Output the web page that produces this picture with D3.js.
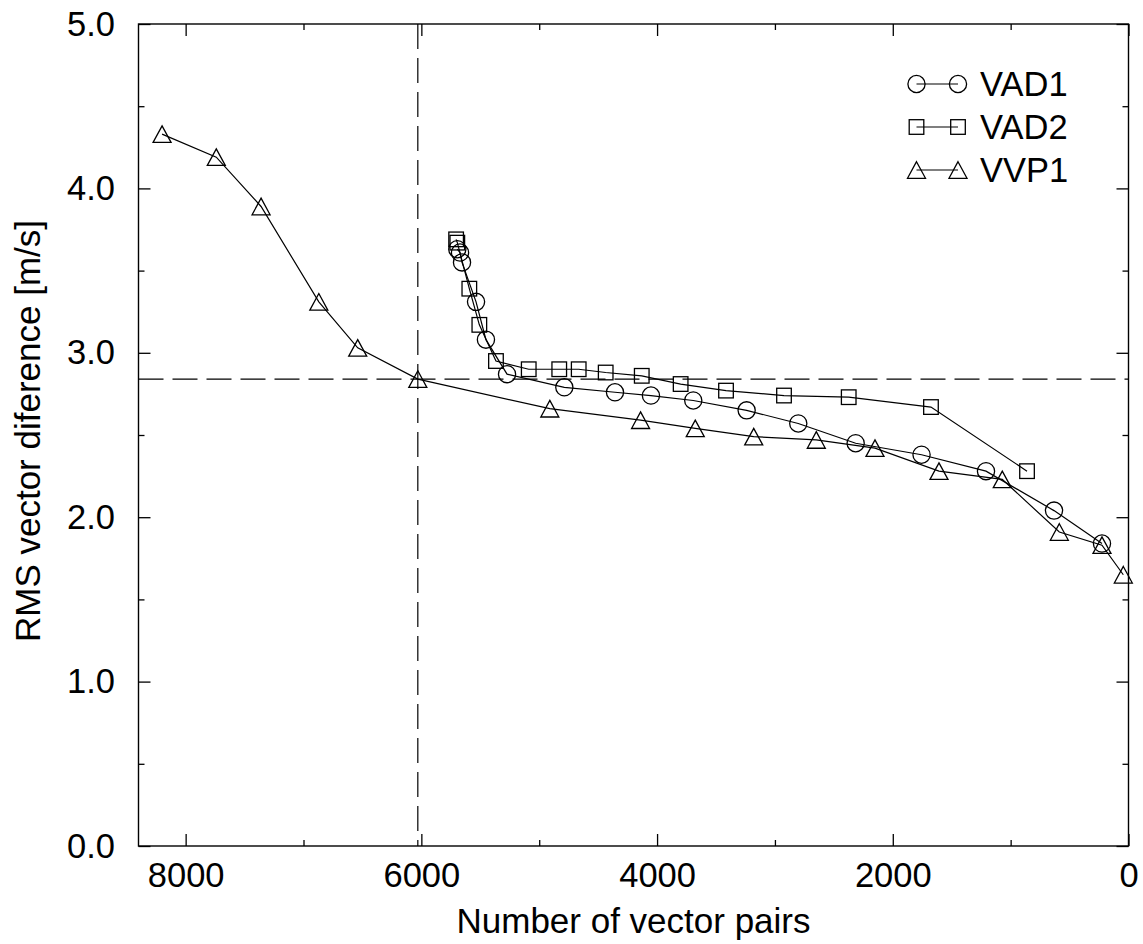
<!DOCTYPE html>
<html>
<head>
<meta charset="utf-8">
<script src="https://cdn.jsdelivr.net/npm/d3@7"></script>
<style>
  body { margin: 0; background: #fff; }
  text { font-family: "Liberation Sans", Arial, Helvetica, sans-serif; fill: #000; }
</style>
</head>
<body>
<svg id="chart" width="1143" height="944"></svg>
<script>
// RMS vector difference against number of vector pairs, three retrieval methods
const vad1Pairs = [5695, 5672, 5655, 5536, 5452, 5273, 4787, 4357, 4052, 3693, 3240, 2802, 2315, 1756, 1209, 632, 225];
const vad1Rms   = [3.63, 3.61, 3.55, 3.31, 3.08, 2.87, 2.79, 2.76, 2.74, 2.71, 2.65, 2.57, 2.45, 2.38, 2.28, 2.04, 1.84];

const vad2Pairs = [5705, 5695, 5593, 5508, 5367, 5089, 4830, 4665, 4436, 4130, 3800, 3415, 2923, 2374, 1676, 861];
const vad2Rms   = [3.69, 3.67, 3.39, 3.17, 2.95, 2.90, 2.90, 2.90, 2.88, 2.86, 2.81, 2.77, 2.74, 2.73, 2.67, 2.28];

const vvp1Pairs = [8200, 7740, 7360, 6870, 6540, 6030, 4910, 4140, 3676, 3180, 2649, 2151, 1608, 1071, 587, 225, 44];
const vvp1Rms   = [4.33, 4.19, 3.89, 3.31, 3.03, 2.84, 2.66, 2.59, 2.54, 2.49, 2.47, 2.42, 2.28, 2.23, 1.91, 1.83, 1.65];

const seriesNames = ["VAD1", "VAD2", "VVP1"];
const seriesSymbols = ["circle", "square", "triangle"];

// reference threshold marked by the dashed cross-hair
const thresholdPairs = 6030;
const thresholdRms = 2.84;

const xMajorTicks = [8000, 6000, 4000, 2000, 0];
const xMinorTicks = [7000, 5000, 3000, 1000];
const yMajorTicks = [0, 1, 2, 3, 4, 5];
const yMinorTicks = [0.5, 1.5, 2.5, 3.5, 4.5];

const xLabel = "Number of vector pairs";
const yLabel = "RMS vector diference [m/s]";

const svg = d3.select("#chart");
const plot = { left: 138.5, right: 1128.5, top: 24, bottom: 846 };
const fontSize = 34.5;
const titleSize = 35;

const x = d3.scaleLinear().domain([8400, 0]).range([plot.left, plot.right]);
const y = d3.scaleLinear().domain([0, 5]).range([plot.bottom, plot.top]);

const series = [
  { pairs: vad1Pairs, rms: vad1Rms },
  { pairs: vad2Pairs, rms: vad2Rms },
  { pairs: vvp1Pairs, rms: vvp1Rms }
].map((s, i) => ({
  name: seriesNames[i],
  symbol: seriesSymbols[i],
  points: s.pairs.map((p, j) => ({ p, r: s.rms[j] }))
}));

// draws one hollow marker centred on (cx, cy)
function marker(g, kind, cx, cy) {
  if (kind === "circle") {
    g.append("circle").attr("cx", cx).attr("cy", cy).attr("r", 8.6);
  } else if (kind === "square") {
    g.append("rect").attr("x", cx - 7.3).attr("y", cy - 7.3).attr("width", 14.6).attr("height", 14.6);
  } else {
    const w = 9, h = 8.3;
    g.append("path").attr("d", `M${cx},${cy - h}L${cx + w},${cy + h}L${cx - w},${cy + h}Z`);
  }
}

// axes: inward ticks on all four sides
function styleAxis(g) {
  g.select(".domain").remove();
  g.selectAll(".tick line").attr("stroke", "#000").attr("stroke-width", 1.3);
  g.selectAll("text").style("font-size", fontSize + "px").attr("fill", "#000");
}

svg.append("g").attr("transform", `translate(0,${plot.bottom})`)
  .call(d3.axisBottom(x).tickValues(xMajorTicks).tickSize(-12).tickPadding(16.5).tickFormat(d3.format("d")))
  .call(styleAxis);
svg.append("g").attr("transform", `translate(0,${plot.bottom})`)
  .call(d3.axisBottom(x).tickValues(xMinorTicks).tickSize(-6).tickFormat(""))
  .call(styleAxis);
svg.append("g").attr("transform", `translate(0,${plot.top})`)
  .call(d3.axisTop(x).tickValues(xMajorTicks).tickSize(-12).tickFormat(""))
  .call(styleAxis);
svg.append("g").attr("transform", `translate(0,${plot.top})`)
  .call(d3.axisTop(x).tickValues(xMinorTicks).tickSize(-6).tickFormat(""))
  .call(styleAxis);

svg.append("g").attr("transform", `translate(${plot.left},0)`)
  .call(d3.axisLeft(y).tickValues(yMajorTicks).tickSize(-12).tickPadding(23.5).tickFormat(d3.format(".1f")))
  .call(styleAxis);
svg.append("g").attr("transform", `translate(${plot.left},0)`)
  .call(d3.axisLeft(y).tickValues(yMinorTicks).tickSize(-6).tickFormat(""))
  .call(styleAxis);
svg.append("g").attr("transform", `translate(${plot.right},0)`)
  .call(d3.axisRight(y).tickValues(yMajorTicks).tickSize(-12).tickFormat(""))
  .call(styleAxis);
svg.append("g").attr("transform", `translate(${plot.right},0)`)
  .call(d3.axisRight(y).tickValues(yMinorTicks).tickSize(-6).tickFormat(""))
  .call(styleAxis);

// plot frame
svg.append("rect")
  .attr("x", plot.left).attr("y", plot.top)
  .attr("width", plot.right - plot.left).attr("height", plot.bottom - plot.top)
  .attr("fill", "none").attr("stroke", "#000").attr("stroke-width", 1.4);

// dashed threshold lines
svg.append("line")
  .attr("x1", x(thresholdPairs)).attr("x2", x(thresholdPairs))
  .attr("y1", plot.top).attr("y2", plot.bottom)
  .attr("stroke", "#000").attr("stroke-width", 1.2).attr("stroke-dasharray", "25,9");
svg.append("line")
  .attr("x1", plot.left).attr("x2", plot.right)
  .attr("y1", y(thresholdRms)).attr("y2", y(thresholdRms))
  .attr("stroke", "#000").attr("stroke-width", 1.2).attr("stroke-dasharray", "25,9");

// series lines and markers
const line = d3.line().x(d => x(d.p)).y(d => y(d.r));
series.forEach(s => {
  svg.append("path").datum(s.points)
    .attr("d", line)
    .attr("fill", "none").attr("stroke", "#000").attr("stroke-width", 1.2);
  const mg = svg.append("g").attr("fill", "none").attr("stroke", "#000").attr("stroke-width", 1.3);
  s.points.forEach(d => marker(mg, s.symbol, x(d.p), y(d.r)));
});

// legend
const legend = svg.append("g");
const legendRowY = [84, 127, 170];
series.forEach((s, i) => {
  const cy = legendRowY[i];
  legend.append("line").attr("x1", 916.5).attr("x2", 958).attr("y1", cy).attr("y2", cy)
    .attr("stroke", "#000").attr("stroke-width", 1.2);
  const mg = legend.append("g").attr("fill", "none").attr("stroke", "#000").attr("stroke-width", 1.3);
  marker(mg, s.symbol, 916.5, cy);
  marker(mg, s.symbol, 958, cy);
  legend.append("text").attr("x", 980).attr("y", cy + 12.3)
    .style("font-size", fontSize + "px").text(s.name);
});

// axis titles
svg.append("text")
  .attr("x", (plot.left + plot.right) / 2).attr("y", 933)
  .attr("text-anchor", "middle").style("font-size", titleSize + "px")
  .text(xLabel);
svg.append("text")
  .attr("transform", `translate(40,431) rotate(-90)`)
  .attr("text-anchor", "middle").style("font-size", titleSize + "px")
  .text(yLabel);
</script>
</body>
</html>
